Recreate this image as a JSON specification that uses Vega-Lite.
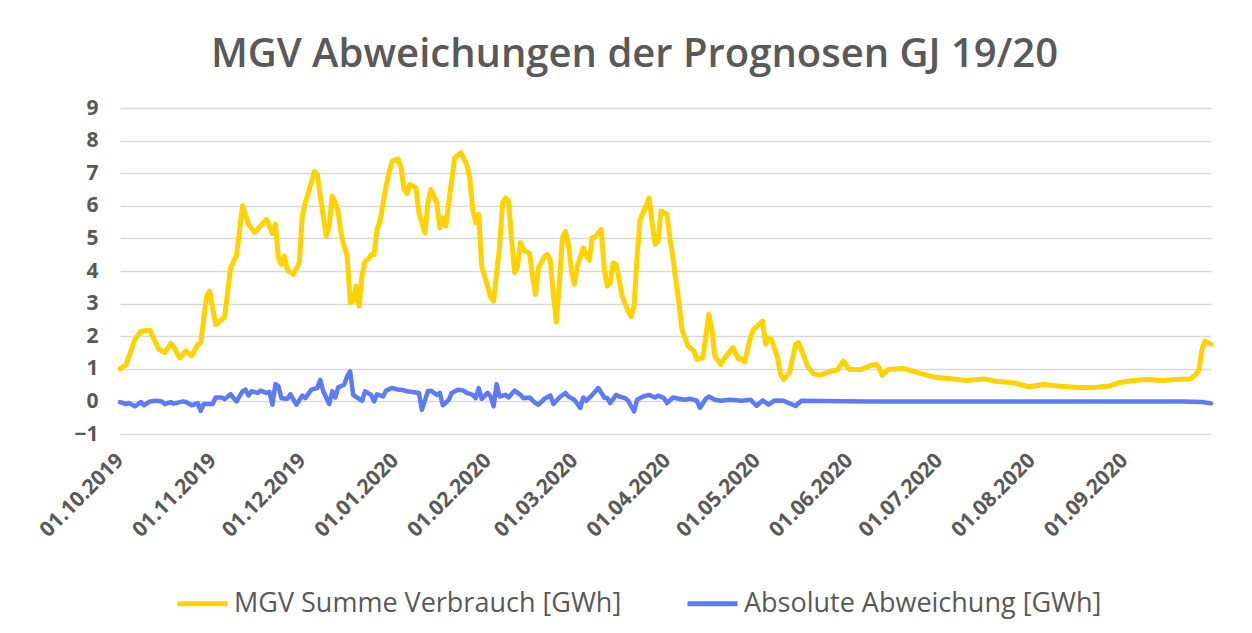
{
  "$schema": "https://vega.github.io/schema/vega-lite/v6.json",
  "width": 1091,
  "height": 326,
  "autosize": {"type": "none"},
  "padding": {"left": 120, "top": 108, "right": 41, "bottom": 199},
  "background": "white",
  "title": {
    "text": "MGV Abweichungen der Prognosen GJ 19/20",
    "font": "Open Sans",
    "fontSize": 40,
    "fontWeight": 600,
    "color": "#595959",
    "anchor": "middle",
    "dx": -31,
    "offset": 22
  },
  "config": {
    "view": {"stroke": null},
    "axis": {"labelFont": "Open Sans", "labelColor": "#595959", "labelFontWeight": "bold"}
  },
  "datasets": {
    "verbrauch": [
      {"date": "2019-10-01", "value": 1.00}, {"date": "2019-10-03", "value": 1.12}, {"date": "2019-10-06", "value": 1.90},
      {"date": "2019-10-08", "value": 2.15}, {"date": "2019-10-11", "value": 2.18}, {"date": "2019-10-14", "value": 1.60},
      {"date": "2019-10-16", "value": 1.50}, {"date": "2019-10-18", "value": 1.78}, {"date": "2019-10-19", "value": 1.66},
      {"date": "2019-10-21", "value": 1.33}, {"date": "2019-10-23", "value": 1.55}, {"date": "2019-10-25", "value": 1.40},
      {"date": "2019-10-27", "value": 1.75}, {"date": "2019-10-28", "value": 1.80}, {"date": "2019-10-30", "value": 3.23},
      {"date": "2019-10-31", "value": 3.38}, {"date": "2019-11-02", "value": 2.36}, {"date": "2019-11-05", "value": 2.58},
      {"date": "2019-11-07", "value": 4.10}, {"date": "2019-11-09", "value": 4.48}, {"date": "2019-11-11", "value": 6.00},
      {"date": "2019-11-13", "value": 5.43}, {"date": "2019-11-15", "value": 5.18}, {"date": "2019-11-17", "value": 5.38},
      {"date": "2019-11-19", "value": 5.58}, {"date": "2019-11-21", "value": 5.15}, {"date": "2019-11-22", "value": 5.43},
      {"date": "2019-11-23", "value": 4.41}, {"date": "2019-11-24", "value": 4.20}, {"date": "2019-11-25", "value": 4.46},
      {"date": "2019-11-26", "value": 4.02}, {"date": "2019-11-28", "value": 3.90}, {"date": "2019-11-30", "value": 4.25},
      {"date": "2019-12-01", "value": 5.70}, {"date": "2019-12-02", "value": 6.10}, {"date": "2019-12-03", "value": 6.40},
      {"date": "2019-12-05", "value": 7.05}, {"date": "2019-12-06", "value": 6.96}, {"date": "2019-12-07", "value": 6.30},
      {"date": "2019-12-09", "value": 5.07}, {"date": "2019-12-10", "value": 5.38}, {"date": "2019-12-11", "value": 6.30},
      {"date": "2019-12-12", "value": 6.10}, {"date": "2019-12-13", "value": 5.80}, {"date": "2019-12-14", "value": 5.12},
      {"date": "2019-12-15", "value": 4.75}, {"date": "2019-12-16", "value": 4.45}, {"date": "2019-12-17", "value": 3.03},
      {"date": "2019-12-18", "value": 3.08}, {"date": "2019-12-19", "value": 3.54}, {"date": "2019-12-20", "value": 2.92},
      {"date": "2019-12-21", "value": 3.90}, {"date": "2019-12-22", "value": 4.30}, {"date": "2019-12-23", "value": 4.36},
      {"date": "2019-12-24", "value": 4.50}, {"date": "2019-12-25", "value": 4.50}, {"date": "2019-12-26", "value": 5.28},
      {"date": "2019-12-27", "value": 5.53}, {"date": "2019-12-29", "value": 6.60}, {"date": "2019-12-30", "value": 7.01},
      {"date": "2019-12-31", "value": 7.37}, {"date": "2020-01-02", "value": 7.44}, {"date": "2020-01-03", "value": 7.20},
      {"date": "2020-01-04", "value": 6.50}, {"date": "2020-01-05", "value": 6.38}, {"date": "2020-01-06", "value": 6.66},
      {"date": "2020-01-08", "value": 6.55}, {"date": "2020-01-09", "value": 5.79}, {"date": "2020-01-11", "value": 5.17},
      {"date": "2020-01-12", "value": 6.09}, {"date": "2020-01-13", "value": 6.50}, {"date": "2020-01-15", "value": 6.09},
      {"date": "2020-01-16", "value": 5.33}, {"date": "2020-01-17", "value": 5.63}, {"date": "2020-01-18", "value": 5.38},
      {"date": "2020-01-20", "value": 6.81}, {"date": "2020-01-21", "value": 7.47}, {"date": "2020-01-23", "value": 7.63},
      {"date": "2020-01-25", "value": 7.27}, {"date": "2020-01-26", "value": 6.86}, {"date": "2020-01-27", "value": 5.89},
      {"date": "2020-01-28", "value": 5.48}, {"date": "2020-01-29", "value": 5.74}, {"date": "2020-01-30", "value": 4.15},
      {"date": "2020-01-31", "value": 3.84}, {"date": "2020-02-02", "value": 3.20}, {"date": "2020-02-03", "value": 3.08},
      {"date": "2020-02-05", "value": 4.76}, {"date": "2020-02-06", "value": 6.09}, {"date": "2020-02-07", "value": 6.24},
      {"date": "2020-02-08", "value": 6.14}, {"date": "2020-02-09", "value": 4.97}, {"date": "2020-02-10", "value": 3.95},
      {"date": "2020-02-11", "value": 4.15}, {"date": "2020-02-12", "value": 4.87}, {"date": "2020-02-13", "value": 4.64},
      {"date": "2020-02-15", "value": 4.54}, {"date": "2020-02-16", "value": 3.84}, {"date": "2020-02-17", "value": 3.28},
      {"date": "2020-02-18", "value": 4.10}, {"date": "2020-02-20", "value": 4.44}, {"date": "2020-02-21", "value": 4.50},
      {"date": "2020-02-22", "value": 4.30}, {"date": "2020-02-23", "value": 3.23}, {"date": "2020-02-24", "value": 2.43},
      {"date": "2020-02-25", "value": 3.64}, {"date": "2020-02-26", "value": 5.02}, {"date": "2020-02-27", "value": 5.22},
      {"date": "2020-02-28", "value": 4.82}, {"date": "2020-02-29", "value": 4.05}, {"date": "2020-03-01", "value": 3.59},
      {"date": "2020-03-02", "value": 4.15}, {"date": "2020-03-04", "value": 4.71}, {"date": "2020-03-05", "value": 4.48},
      {"date": "2020-03-06", "value": 4.33}, {"date": "2020-03-07", "value": 5.02}, {"date": "2020-03-08", "value": 5.05},
      {"date": "2020-03-10", "value": 5.28}, {"date": "2020-03-11", "value": 4.05}, {"date": "2020-03-12", "value": 3.54},
      {"date": "2020-03-13", "value": 3.64}, {"date": "2020-03-14", "value": 4.25}, {"date": "2020-03-15", "value": 4.20},
      {"date": "2020-03-16", "value": 3.74}, {"date": "2020-03-17", "value": 3.23}, {"date": "2020-03-19", "value": 2.77},
      {"date": "2020-03-20", "value": 2.60}, {"date": "2020-03-21", "value": 2.92}, {"date": "2020-03-22", "value": 4.46},
      {"date": "2020-03-23", "value": 5.58}, {"date": "2020-03-25", "value": 5.99}, {"date": "2020-03-26", "value": 6.24},
      {"date": "2020-03-27", "value": 5.50}, {"date": "2020-03-28", "value": 4.82}, {"date": "2020-03-29", "value": 4.92},
      {"date": "2020-03-30", "value": 5.84}, {"date": "2020-04-01", "value": 5.74}, {"date": "2020-04-02", "value": 4.97},
      {"date": "2020-04-03", "value": 4.41}, {"date": "2020-04-04", "value": 3.69}, {"date": "2020-04-05", "value": 3.03},
      {"date": "2020-04-06", "value": 2.21}, {"date": "2020-04-08", "value": 1.70}, {"date": "2020-04-10", "value": 1.54},
      {"date": "2020-04-11", "value": 1.29}, {"date": "2020-04-13", "value": 1.34}, {"date": "2020-04-15", "value": 2.67},
      {"date": "2020-04-16", "value": 2.21}, {"date": "2020-04-17", "value": 1.39}, {"date": "2020-04-19", "value": 1.13},
      {"date": "2020-04-20", "value": 1.29}, {"date": "2020-04-23", "value": 1.65}, {"date": "2020-04-25", "value": 1.29},
      {"date": "2020-04-26", "value": 1.31}, {"date": "2020-04-27", "value": 1.21}, {"date": "2020-04-29", "value": 2.00},
      {"date": "2020-04-30", "value": 2.21}, {"date": "2020-05-03", "value": 2.46}, {"date": "2020-05-04", "value": 1.75},
      {"date": "2020-05-05", "value": 1.95}, {"date": "2020-05-06", "value": 1.90}, {"date": "2020-05-08", "value": 1.34},
      {"date": "2020-05-09", "value": 0.83}, {"date": "2020-05-10", "value": 0.67}, {"date": "2020-05-12", "value": 0.88},
      {"date": "2020-05-14", "value": 1.75}, {"date": "2020-05-15", "value": 1.80}, {"date": "2020-05-17", "value": 1.34},
      {"date": "2020-05-18", "value": 1.08}, {"date": "2020-05-20", "value": 0.85}, {"date": "2020-05-22", "value": 0.80},
      {"date": "2020-05-26", "value": 0.93}, {"date": "2020-05-28", "value": 0.96}, {"date": "2020-05-30", "value": 1.24},
      {"date": "2020-06-01", "value": 0.98}, {"date": "2020-06-05", "value": 0.98}, {"date": "2020-06-08", "value": 1.10},
      {"date": "2020-06-10", "value": 1.13}, {"date": "2020-06-11", "value": 1.03}, {"date": "2020-06-12", "value": 0.80},
      {"date": "2020-06-14", "value": 0.98}, {"date": "2020-06-19", "value": 1.01}, {"date": "2020-06-25", "value": 0.85},
      {"date": "2020-06-30", "value": 0.73}, {"date": "2020-07-06", "value": 0.69}, {"date": "2020-07-10", "value": 0.64},
      {"date": "2020-07-16", "value": 0.69}, {"date": "2020-07-20", "value": 0.62}, {"date": "2020-07-26", "value": 0.57},
      {"date": "2020-07-31", "value": 0.45}, {"date": "2020-08-05", "value": 0.52}, {"date": "2020-08-10", "value": 0.47},
      {"date": "2020-08-16", "value": 0.43}, {"date": "2020-08-22", "value": 0.43}, {"date": "2020-08-27", "value": 0.47},
      {"date": "2020-08-30", "value": 0.57}, {"date": "2020-09-04", "value": 0.64}, {"date": "2020-09-08", "value": 0.67},
      {"date": "2020-09-14", "value": 0.64}, {"date": "2020-09-18", "value": 0.67}, {"date": "2020-09-23", "value": 0.69},
      {"date": "2020-09-25", "value": 0.83}, {"date": "2020-09-26", "value": 0.98}, {"date": "2020-09-27", "value": 1.60},
      {"date": "2020-09-28", "value": 1.85}, {"date": "2020-09-30", "value": 1.75}
    ],
    "abweichung": [
      {"date": "2019-10-01", "value": -0.02}, {"date": "2019-10-03", "value": -0.08}, {"date": "2019-10-04", "value": -0.05},
      {"date": "2019-10-06", "value": -0.15}, {"date": "2019-10-08", "value": -0.02}, {"date": "2019-10-09", "value": -0.12},
      {"date": "2019-10-11", "value": 0.00}, {"date": "2019-10-13", "value": 0.02}, {"date": "2019-10-15", "value": 0.00},
      {"date": "2019-10-16", "value": -0.08}, {"date": "2019-10-18", "value": -0.02}, {"date": "2019-10-19", "value": -0.07},
      {"date": "2019-10-22", "value": 0.00}, {"date": "2019-10-23", "value": -0.02}, {"date": "2019-10-25", "value": -0.12},
      {"date": "2019-10-27", "value": -0.05}, {"date": "2019-10-28", "value": -0.29}, {"date": "2019-10-29", "value": -0.08},
      {"date": "2019-11-01", "value": -0.08}, {"date": "2019-11-02", "value": 0.12}, {"date": "2019-11-04", "value": 0.12},
      {"date": "2019-11-05", "value": 0.07}, {"date": "2019-11-07", "value": 0.22}, {"date": "2019-11-08", "value": 0.10},
      {"date": "2019-11-09", "value": 0.00}, {"date": "2019-11-11", "value": 0.31}, {"date": "2019-11-12", "value": 0.36},
      {"date": "2019-11-13", "value": 0.18}, {"date": "2019-11-14", "value": 0.31}, {"date": "2019-11-16", "value": 0.26},
      {"date": "2019-11-17", "value": 0.33}, {"date": "2019-11-19", "value": 0.26}, {"date": "2019-11-20", "value": 0.29},
      {"date": "2019-11-21", "value": -0.10}, {"date": "2019-11-22", "value": 0.53}, {"date": "2019-11-23", "value": 0.46},
      {"date": "2019-11-24", "value": 0.10}, {"date": "2019-11-26", "value": 0.08}, {"date": "2019-11-27", "value": 0.22},
      {"date": "2019-11-29", "value": -0.10}, {"date": "2019-12-01", "value": 0.18}, {"date": "2019-12-02", "value": 0.10},
      {"date": "2019-12-04", "value": 0.36}, {"date": "2019-12-06", "value": 0.41}, {"date": "2019-12-07", "value": 0.66},
      {"date": "2019-12-08", "value": 0.31}, {"date": "2019-12-10", "value": -0.08}, {"date": "2019-12-11", "value": 0.31},
      {"date": "2019-12-12", "value": 0.12}, {"date": "2019-12-13", "value": 0.43}, {"date": "2019-12-15", "value": 0.51},
      {"date": "2019-12-16", "value": 0.77}, {"date": "2019-12-17", "value": 0.92}, {"date": "2019-12-18", "value": 0.20},
      {"date": "2019-12-20", "value": 0.08}, {"date": "2019-12-21", "value": 0.02}, {"date": "2019-12-22", "value": 0.31},
      {"date": "2019-12-24", "value": 0.20}, {"date": "2019-12-25", "value": 0.00}, {"date": "2019-12-26", "value": 0.22},
      {"date": "2019-12-28", "value": 0.15}, {"date": "2019-12-29", "value": 0.33}, {"date": "2019-12-31", "value": 0.41},
      {"date": "2020-01-02", "value": 0.36}, {"date": "2020-01-03", "value": 0.36}, {"date": "2020-01-05", "value": 0.31},
      {"date": "2020-01-07", "value": 0.29}, {"date": "2020-01-09", "value": 0.26}, {"date": "2020-01-10", "value": -0.26},
      {"date": "2020-01-12", "value": 0.31}, {"date": "2020-01-13", "value": 0.33}, {"date": "2020-01-15", "value": 0.20},
      {"date": "2020-01-16", "value": 0.26}, {"date": "2020-01-17", "value": -0.12}, {"date": "2020-01-19", "value": 0.05},
      {"date": "2020-01-20", "value": 0.26}, {"date": "2020-01-22", "value": 0.36}, {"date": "2020-01-24", "value": 0.33},
      {"date": "2020-01-25", "value": 0.26}, {"date": "2020-01-27", "value": 0.20}, {"date": "2020-01-28", "value": 0.10},
      {"date": "2020-01-29", "value": 0.41}, {"date": "2020-01-30", "value": 0.08}, {"date": "2020-02-01", "value": 0.26},
      {"date": "2020-02-02", "value": 0.15}, {"date": "2020-02-03", "value": -0.15}, {"date": "2020-02-04", "value": 0.53},
      {"date": "2020-02-05", "value": 0.15}, {"date": "2020-02-07", "value": 0.20}, {"date": "2020-02-08", "value": 0.12},
      {"date": "2020-02-10", "value": 0.33}, {"date": "2020-02-12", "value": 0.20}, {"date": "2020-02-13", "value": 0.10},
      {"date": "2020-02-15", "value": 0.12}, {"date": "2020-02-17", "value": -0.05}, {"date": "2020-02-18", "value": -0.10},
      {"date": "2020-02-20", "value": 0.08}, {"date": "2020-02-22", "value": 0.18}, {"date": "2020-02-23", "value": -0.08},
      {"date": "2020-02-25", "value": 0.12}, {"date": "2020-02-27", "value": 0.26}, {"date": "2020-02-28", "value": 0.15},
      {"date": "2020-03-01", "value": 0.05}, {"date": "2020-03-03", "value": -0.20}, {"date": "2020-03-04", "value": 0.12},
      {"date": "2020-03-05", "value": 0.02}, {"date": "2020-03-07", "value": 0.20}, {"date": "2020-03-09", "value": 0.41},
      {"date": "2020-03-11", "value": 0.12}, {"date": "2020-03-12", "value": 0.10}, {"date": "2020-03-13", "value": -0.05},
      {"date": "2020-03-15", "value": 0.20}, {"date": "2020-03-16", "value": 0.15}, {"date": "2020-03-18", "value": 0.10},
      {"date": "2020-03-19", "value": 0.02}, {"date": "2020-03-21", "value": -0.31}, {"date": "2020-03-22", "value": 0.05},
      {"date": "2020-03-24", "value": 0.15}, {"date": "2020-03-26", "value": 0.20}, {"date": "2020-03-28", "value": 0.12},
      {"date": "2020-03-29", "value": 0.18}, {"date": "2020-03-31", "value": 0.10}, {"date": "2020-04-01", "value": -0.05},
      {"date": "2020-04-03", "value": 0.12}, {"date": "2020-04-05", "value": 0.08}, {"date": "2020-04-07", "value": 0.05},
      {"date": "2020-04-09", "value": 0.08}, {"date": "2020-04-11", "value": 0.02}, {"date": "2020-04-12", "value": -0.20},
      {"date": "2020-04-14", "value": 0.08}, {"date": "2020-04-15", "value": 0.15}, {"date": "2020-04-17", "value": 0.05},
      {"date": "2020-04-19", "value": 0.02}, {"date": "2020-04-22", "value": 0.05}, {"date": "2020-04-26", "value": 0.02},
      {"date": "2020-04-29", "value": 0.05}, {"date": "2020-05-01", "value": -0.14}, {"date": "2020-05-03", "value": 0.03},
      {"date": "2020-05-05", "value": -0.10}, {"date": "2020-05-07", "value": 0.03}, {"date": "2020-05-10", "value": 0.02},
      {"date": "2020-05-14", "value": -0.14}, {"date": "2020-05-16", "value": 0.02}, {"date": "2020-05-23", "value": 0.01},
      {"date": "2020-06-07", "value": 0.00}, {"date": "2020-07-07", "value": 0.00}, {"date": "2020-08-16", "value": 0.00},
      {"date": "2020-09-20", "value": 0.00}, {"date": "2020-09-27", "value": -0.02}, {"date": "2020-09-30", "value": -0.06}
    ]
  },
  "encoding": {
    "x": {
      "field": "date",
      "type": "temporal",
      "scale": {"type": "utc", "nice": false},
      "axis": {
        "title": null,
        "format": "%d.%m.%Y",
        "tickCount": {"interval": "month", "step": 1},
        "labelAngle": -45,
        "labelAlign": "right",
        "labelBaseline": "middle",
        "labelFontSize": 21,
        "labelPadding": 23,
        "labelOverlap": false,
        "grid": false,
        "domain": false,
        "ticks": false
      }
    },
    "y": {
      "field": "value",
      "type": "quantitative",
      "scale": {"domain": [-1, 9], "nice": false, "zero": false},
      "axis": {
        "title": null,
        "values": [-1, 0, 1, 2, 3, 4, 5, 6, 7, 8, 9],
        "labelFontSize": 21,
        "labelPadding": 22,
        "domain": false,
        "ticks": false,
        "gridColor": "#d9d9d9",
        "gridWidth": 1.5
      }
    },
    "color": {
      "datum": "MGV Summe Verbrauch [GWh]",
      "type": "nominal",
      "scale": {
        "domain": ["MGV Summe Verbrauch [GWh]", "Absolute Abweichung [GWh]"],
        "range": ["#FFD200", "#5B7BFA"]
      },
      "legend": {
        "title": null,
        "orient": "none",
        "direction": "horizontal",
        "legendX": 55,
        "legendY": 468,
        "symbolType": "stroke",
        "symbolStrokeWidth": 5,
        "symbolSize": 2500,
        "labelFont": "Open Sans",
        "labelFontSize": 27,
        "labelFontWeight": 500,
        "labelColor": "#595959",
        "labelOffset": 4,
        "columnPadding": 55,
        "labelLimit": 600
      }
    }
  },
  "layer": [
    {
      "data": {"name": "verbrauch"},
      "mark": {"type": "line", "strokeWidth": 5, "strokeJoin": "round", "strokeCap": "round"}
    },
    {
      "data": {"name": "abweichung"},
      "mark": {"type": "line", "strokeWidth": 4.5, "strokeJoin": "round", "strokeCap": "round"},
      "encoding": {"color": {"datum": "Absolute Abweichung [GWh]", "type": "nominal"}}
    }
  ]
}
